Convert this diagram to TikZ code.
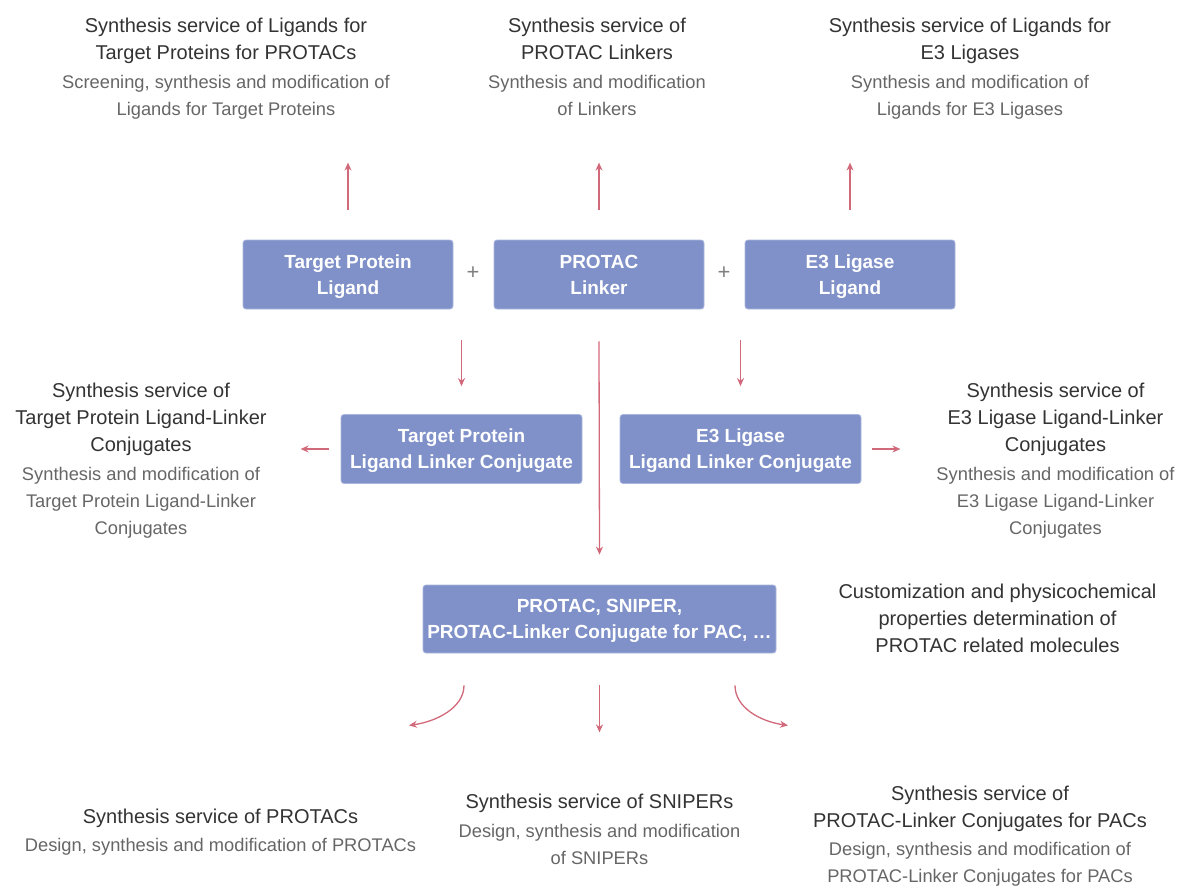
\documentclass[tikz,border=0pt]{standalone}
\usepackage{fontspec}
\setmainfont{Liberation Sans}
\usetikzlibrary{arrows.meta,positioning,calc}
\definecolor{boxblue}{HTML}{7F91C8}
\definecolor{boxedge}{HTML}{AAB6DE}
\definecolor{arrowred}{HTML}{D2697A}
\definecolor{headgray}{HTML}{333333}
\definecolor{descgray}{HTML}{666666}

\begin{document}
\begin{tikzpicture}[
  x=1pt,y=-1pt,>={Stealth[length=8pt,width=7pt]},
  part/.style={draw=boxedge,line width=0.8pt,fill=boxblue,rounded corners=3pt,text=white,
    font=\bfseries\fontsize{19}{26}\selectfont,align=center,inner sep=0pt,text depth=0pt},
  head/.style={anchor=north,align=center,inner sep=0pt,yshift=-7pt,text=headgray,font=\fontsize{20}{27}\selectfont},
  desc/.style={anchor=north,align=center,inner sep=0pt,yshift=-7pt,text=descgray,font=\fontsize{18.3}{27}\selectfont},
  link/.style={->,draw=arrowred,line width=1.3pt},
  plus/.style={text=gray,font=\fontsize{22}{22}\selectfont}
]
  \useasboundingbox (0,0) rectangle (1179,886);

  % Building blocks (first row)
  \node[part,minimum width=210pt,minimum height=69pt] (tpl) at (348,274.5) {Target Protein\\Ligand};
  \node[part,minimum width=210pt,minimum height=69pt] (lnk) at (599,274.5) {PROTAC\\Linker};
  \node[part,minimum width=210pt,minimum height=69pt] (e3l) at (850,274.5) {E3 Ligase\\Ligand};
  \node[plus] (plusA) at (473,273) {+};
  \node[plus] (plusB) at (724,273) {+};

  % Conjugates (second row)
  \node[part,minimum width=241pt,minimum height=69pt] (tplc) at (461.5,449) {Target Protein\\Ligand Linker Conjugate};
  \node[part,minimum width=241pt,minimum height=69pt] (e3lc) at (740.5,449) {E3 Ligase\\Ligand Linker Conjugate};

  % Final molecules (third row)
  \node[part,minimum width=353pt,minimum height=68pt] (mol) at (599.5,619) {PROTAC, SNIPER,\\PROTAC-Linker Conjugate for PAC, \dots};

  % Services on top
  \node[head] (tplSvc) at (226,11) {Synthesis service of Ligands for\\Target Proteins for PROTACs};
  \node[desc] (tplTxt) at (226,68) {Screening, synthesis and modification of\\Ligands for Target Proteins};
  \node[head] (lnkSvc) at (597,11) {Synthesis service of\\PROTAC Linkers};
  \node[desc] (lnkTxt) at (597,68) {Synthesis and modification\\of Linkers};
  \node[head] (e3lSvc) at (970,11) {Synthesis service of Ligands for\\E3 Ligases};
  \node[desc] (e3lTxt) at (970,68) {Synthesis and modification of\\Ligands for E3 Ligases};

  % Services beside the conjugates
  \node[head] (tplcSvc) at (141,376) {Synthesis service of\\Target Protein Ligand-Linker\\Conjugates};
  \node[desc] (tplcTxt) at (141,460) {Synthesis and modification of\\Target Protein Ligand-Linker\\Conjugates};
  \node[head] (e3lcSvc) at (1055.5,376) {Synthesis service of\\E3 Ligase Ligand-Linker\\Conjugates};
  \node[desc] (e3lcTxt) at (1055.5,460) {Synthesis and modification of\\E3 Ligase Ligand-Linker\\Conjugates};
  \node[head] (custom) at (997.5,577) {Customization and physicochemical\\properties determination of\\PROTAC related molecules};

  % Services at the bottom
  \node[head] (protSvc) at (220.5,802) {Synthesis service of PROTACs};
  \node[desc] (protTxt) at (220.5,831) {Design, synthesis and modification of PROTACs};
  \node[head] (snipSvc) at (599.5,787) {Synthesis service of SNIPERs};
  \node[desc] (snipTxt) at (599.5,817) {Design, synthesis and modification\\of SNIPERs};
  \node[head] (pacSvc) at (980,779) {Synthesis service of\\PROTAC-Linker Conjugates for PACs};
  \node[desc] (pacTxt) at (980,835) {Design, synthesis and modification of\\PROTAC-Linker Conjugates for PACs};

  % Arrows up to the services
  \draw[link] ([yshift=30pt]tpl.north) -- ([yshift=77pt]tpl.north);
  \draw[link] ([yshift=30pt]lnk.north) -- ([yshift=77pt]lnk.north);
  \draw[link] ([yshift=30pt]e3l.north) -- ([yshift=77pt]e3l.north);

  % Arrows down to the conjugates and the molecules
  \draw[link] ([yshift=74pt]tplc.north) -- ([yshift=28pt]tplc.north);
  \draw[link] ([yshift=74pt]e3lc.north) -- ([yshift=28pt]e3lc.north);
  \draw[link] ([yshift=-32pt]lnk.south) -- ([yshift=30pt]mol.north);

  % Side arrows
  \draw[link] ([xshift=-12pt]tplc.west) -- ([xshift=-40pt]tplc.west);
  \draw[link] ([xshift=11pt]e3lc.east) -- ([xshift=39pt]e3lc.east);

  % Arrows to the bottom services
  \draw[link] ([xshift=-135.5pt,yshift=-32pt]mol.south) .. controls +(0,22) and +(28,-4) .. ([xshift=-190.5pt,yshift=-72pt]mol.south);
  \draw[link] ([yshift=-32pt]mol.south) -- ([yshift=-79pt]mol.south);
  \draw[link] ([xshift=135.5pt,yshift=-32pt]mol.south) .. controls +(0,22) and +(-28,-4) .. ([xshift=188.5pt,yshift=-72pt]mol.south);
\end{tikzpicture}
\end{document}
